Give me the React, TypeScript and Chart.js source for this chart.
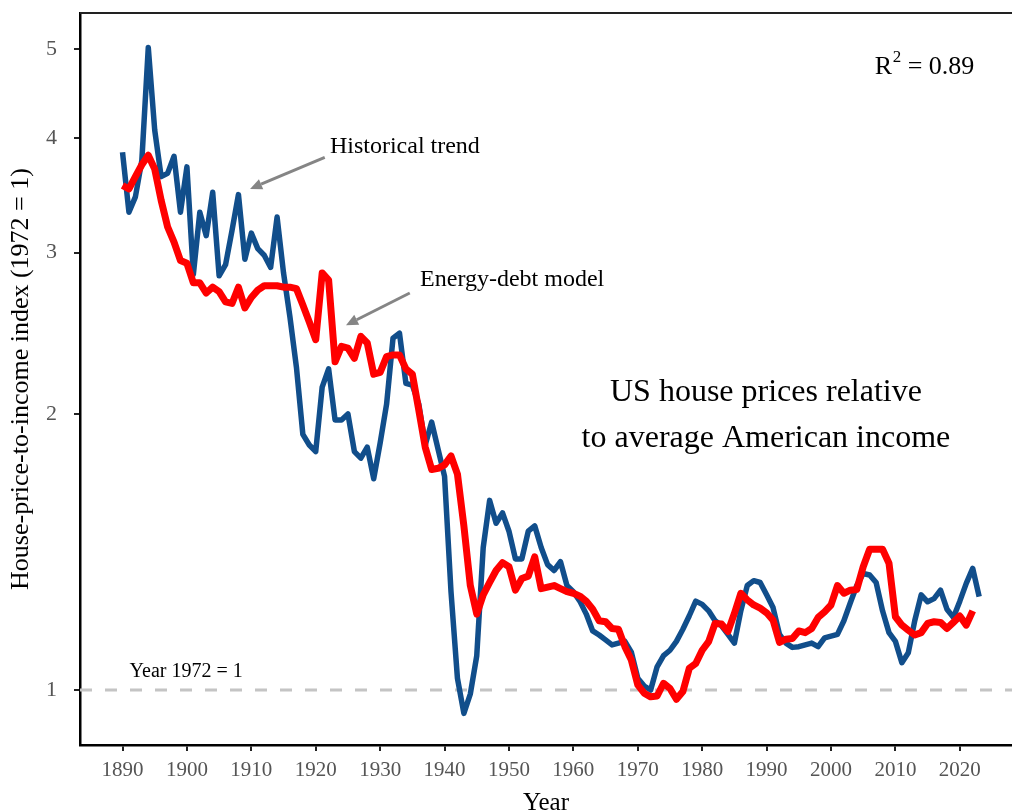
import React, { useEffect, useRef } from "react";
import { Chart, registerables } from "chart.js";

Chart.register(...registerables);

// ---------- data ----------
const FIRST_YEAR = 1890;

// Historical house-price-to-income index (1972 = 1), 1890..2023
const historical = [
  3.86, 3.32, 3.45, 3.78, 5.02, 4.08, 3.63, 3.66, 3.82, 3.32,
  3.72, 2.84, 3.32, 3.13, 3.49, 2.83, 2.91, 3.17, 3.47, 2.95,
  3.15, 3.03, 2.98, 2.89, 3.28, 2.85, 2.55, 2.25, 1.9, 1.85,
  1.82, 2.14, 2.24, 1.97, 1.97, 2.0, 1.82, 1.79, 1.84, 1.7,
  1.86, 2.05, 2.42, 2.45, 2.16, 2.15, 2.05, 1.85, 1.96, 1.83,
  1.71, 1.28, 1.03, 0.943, 0.99, 1.09, 1.43, 1.61, 1.52, 1.56,
  1.49, 1.39, 1.39, 1.49, 1.51, 1.43, 1.37, 1.35, 1.38, 1.3,
  1.28, 1.25, 1.21, 1.16, 1.148, 1.134, 1.12, 1.125, 1.13, 1.1,
  1.03, 1.01, 1.0, 1.06, 1.09, 1.105, 1.13, 1.165, 1.205, 1.25,
  1.24, 1.22, 1.19, 1.175, 1.15, 1.125, 1.22, 1.3, 1.316, 1.31,
  1.27, 1.23, 1.15, 1.125, 1.113, 1.115, 1.12, 1.125, 1.115, 1.14,
  1.145, 1.15, 1.19, 1.245, 1.3, 1.34, 1.335, 1.31, 1.22, 1.155,
  1.13, 1.071, 1.098, 1.19, 1.27, 1.248, 1.258, 1.285, 1.225, 1.2,
  1.25, 1.307, 1.357, 1.264,
];

// Energy-debt model, 1890..2022
const model = [
  3.55, 3.52, 3.63, 3.74, 3.83, 3.7, 3.42, 3.2, 3.08, 2.94,
  2.92, 2.78, 2.78, 2.71, 2.75, 2.72, 2.65, 2.64, 2.75, 2.61,
  2.68, 2.73, 2.76, 2.76, 2.76, 2.75, 2.75, 2.74, 2.63, 2.52,
  2.41, 2.85, 2.8, 2.28, 2.37, 2.36, 2.3, 2.43, 2.39, 2.21,
  2.22, 2.31, 2.32, 2.32, 2.24, 2.21, 2.02, 1.84, 1.74, 1.745,
  1.76, 1.8, 1.72, 1.51, 1.3, 1.21, 1.27, 1.31, 1.35, 1.377,
  1.363, 1.285, 1.323, 1.331, 1.397, 1.29, 1.295, 1.3, 1.29, 1.28,
  1.275, 1.266, 1.25, 1.225, 1.19, 1.187, 1.167, 1.165, 1.115, 1.078,
  1.013, 0.992, 0.983, 0.985, 1.017, 1.004, 0.977, 0.996, 1.056, 1.069,
  1.105, 1.129, 1.182, 1.18, 1.158, 1.212, 1.275, 1.254, 1.238, 1.228,
  1.214, 1.192, 1.127, 1.136, 1.138, 1.16, 1.155, 1.167, 1.2, 1.217,
  1.238, 1.3, 1.275, 1.285, 1.287, 1.363, 1.424, 1.424, 1.424, 1.375,
  1.202, 1.177, 1.162, 1.148, 1.155, 1.182, 1.187, 1.185, 1.167, 1.185,
  1.204, 1.177, 1.22,
];

const xTicks = [1890, 1900, 1910, 1920, 1930, 1940, 1950, 1960, 1970, 1980, 1990, 2000, 2010, 2020];
const yTicks = [1, 2, 3, 4, 5];
const baselineValue = 1;
const xRange = [1883.4, 2028.1];
const yRange = [0.871, 5.475];

const yTitle = "House-price-to-income index (1972 = 1)";
const xTitle = "Year";
const baselineLabel = "Year 1972 = 1";
const historicalLabel = "Historical trend";
const modelLabel = "Energy-debt model";
const titleLines = ["US house prices relative", "to average American income"];
const r2Value = "0.89";

// ---------- component ----------
const SERIF = "'Liberation Serif', 'Times New Roman', serif";

const toPoints = (arr: number[]) => arr.map((v, i) => ({ x: FIRST_YEAR + i, y: v }));

const zeroPadding = (s: any) => {
  s.paddingTop = 0;
  s.paddingBottom = 0;
  s.paddingLeft = 0;
  s.paddingRight = 0;
};

export default function App() {
  const ref = useRef<HTMLCanvasElement>(null);

  useEffect(() => {
    const canvas = ref.current;
    if (!canvas) return;

    const drawArrow = (ctx: CanvasRenderingContext2D, x1: number, y1: number, x2: number, y2: number) => {
      const ang = Math.atan2(y2 - y1, x2 - x1);
      const head = 12;
      const hw = 5.5;
      const bx = x2 - head * Math.cos(ang);
      const by = y2 - head * Math.sin(ang);
      ctx.beginPath();
      ctx.moveTo(x1, y1);
      ctx.lineTo(bx, by);
      ctx.stroke();
      ctx.beginPath();
      ctx.moveTo(x2, y2);
      ctx.lineTo(bx + hw * Math.sin(ang), by - hw * Math.cos(ang));
      ctx.lineTo(bx - hw * Math.sin(ang), by + hw * Math.cos(ang));
      ctx.closePath();
      ctx.fill();
    };

    const annotations = {
      id: "annotations",
      afterDraw(chart: any) {
        const { ctx, chartArea } = chart;
        const xs = chart.scales.x;
        const ys = chart.scales.y;
        const px = (v: number) => xs.getPixelForValue(v);
        const py = (v: number) => ys.getPixelForValue(v);
        ctx.save();
        // top frame line
        ctx.strokeStyle = "#222";
        ctx.lineWidth = 2;
        ctx.beginPath();
        ctx.moveTo(chartArea.left, chartArea.top);
        ctx.lineTo(chart.width, chartArea.top);
        ctx.stroke();

        // arrows
        ctx.strokeStyle = "#858585";
        ctx.fillStyle = "#858585";
        ctx.lineWidth = 3;
        drawArrow(ctx, px(1921.4), py(3.81), px(1909.8), py(3.52));
        drawArrow(ctx, px(1934.6), py(2.71), px(1924.7), py(2.5));

        // labels
        ctx.fillStyle = "#000";
        ctx.textBaseline = "middle";
        ctx.textAlign = "left";
        ctx.font = `24px ${SERIF}`;
        ctx.fillText(historicalLabel, px(1922.2), py(3.91));
        ctx.fillText(modelLabel, px(1936.2), py(2.8));

        ctx.font = `20px ${SERIF}`;
        ctx.fillText(baselineLabel, px(1891.1), py(1.046));

        ctx.textAlign = "center";
        ctx.font = `32px ${SERIF}`;
        ctx.fillText(titleLines[0], px(1989.9), py(2.11));
        ctx.fillText(titleLines[1], px(1989.9), py(1.88));

        // R^2
        ctx.textAlign = "left";
        let rx = px(2006.8);
        const ry = py(4.78);
        ctx.font = `26px ${SERIF}`;
        ctx.fillText("R", rx, ry);
        rx += ctx.measureText("R").width;
        ctx.font = `17px ${SERIF}`;
        ctx.fillText("2", rx + 0.5, ry - 10);
        rx += ctx.measureText("2").width + 0.5;
        ctx.font = `26px ${SERIF}`;
        ctx.fillText(" = " + r2Value, rx, ry);
        ctx.restore();
      },
    };

    const chart = new Chart(canvas, {
      type: "line",
      data: {
        datasets: [
          {
            label: "Energy-debt model",
            data: toPoints(model),
            borderColor: "#ff0000",
            borderWidth: 7,
            pointRadius: 0,
            tension: 0,
            borderJoinStyle: "round",
            order: 0,
          },
          {
            label: "Historical trend",
            data: toPoints(historical),
            borderColor: "#114e8b",
            borderWidth: 5.5,
            pointRadius: 0,
            tension: 0,
            borderJoinStyle: "round",
            order: 1,
          },
          {
            label: "Baseline",
            data: [
              { x: xRange[0], y: baselineValue },
              { x: xRange[1], y: baselineValue },
            ],
            borderColor: "#c4c4c4",
            borderWidth: 3,
            borderDash: [12, 13],
            pointRadius: 0,
            order: 2,
          },
        ],
      },
      options: {
        responsive: false,
        devicePixelRatio: 1,
        animation: false,
        layout: { padding: { top: 13, right: 0, left: 0, bottom: 0 } },
        plugins: {
          legend: { display: false },
          tooltip: { enabled: false },
        },
        scales: {
          x: {
            type: "linear",
            min: xRange[0],
            max: xRange[1],
            afterBuildTicks: (s: any) => {
              s.ticks = xTicks.map((v) => ({ value: v }));
            },
            afterFit: (s: any) => {
              s.height = 67;
              zeroPadding(s);
            },
            ticks: {
              color: "#555",
              font: { family: SERIF, size: 21 },
              padding: 7,
              autoSkip: false,
              maxRotation: 0,
              callback: (v: any) => String(v),
            },
            grid: {
              drawOnChartArea: false,
              drawTicks: true,
              tickLength: 6,
              color: "#222",
              lineWidth: 2,
            },
            border: { display: true, color: "#000", width: 2.5 },
            title: {
              display: true,
              text: xTitle,
              color: "#000",
              font: { family: SERIF, size: 25 },
              padding: { top: 0, bottom: -6 },
            },
          },
          y: {
            type: "logarithmic",
            min: yRange[0],
            max: yRange[1],
            afterBuildTicks: (s: any) => {
              s.ticks = yTicks.map((v) => ({ value: v }));
            },
            afterFit: (s: any) => {
              s.width = 80;
              zeroPadding(s);
            },
            ticks: {
              color: "#555",
              font: { family: SERIF, size: 22 },
              padding: 17,
              autoSkip: false,
              callback: (v: any) => String(v),
            },
            grid: {
              drawOnChartArea: false,
              drawTicks: true,
              tickLength: 6,
              color: "#222",
              lineWidth: 2,
            },
            border: { display: true, color: "#000", width: 2.5 },
            title: {
              display: true,
              text: yTitle,
              color: "#000",
              font: { family: SERIF, size: 26 },
              padding: { top: 6, bottom: 0 },
            },
          },
        },
      },
      plugins: [annotations],
    } as any);

    return () => chart.destroy();
  }, []);

  return (
    <div
      style={{
        position: "fixed",
        left: 0,
        top: 0,
        width: 1012,
        height: 812,
        overflow: "hidden",
        background: "#fff",
      }}
    >
      <canvas ref={ref} width={1012} height={812} style={{ display: "block", width: 1012, height: 812 }} />
    </div>
  );
}
